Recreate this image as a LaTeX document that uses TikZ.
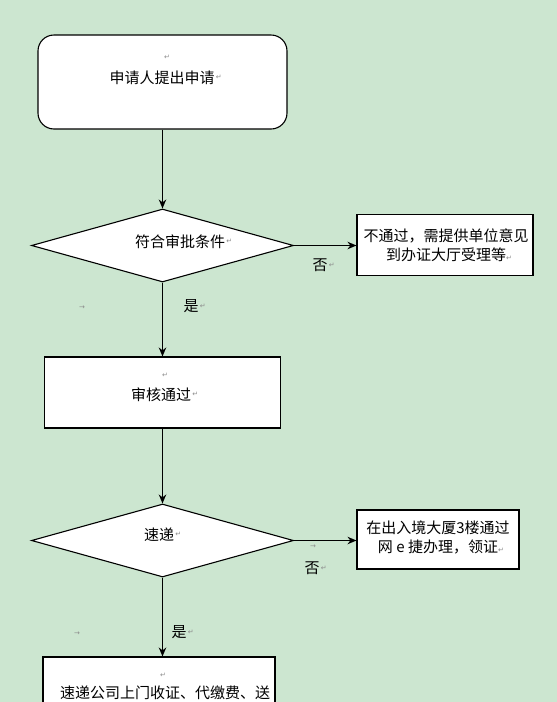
\documentclass[tikz,border=0pt]{standalone}
\usepackage{fontspec}
\newfontfamily\cjk{Noto Sans CJK SC}
\newfontfamily\dvs{DejaVu Sans}
\usetikzlibrary{shapes.geometric,arrows.meta}
\definecolor{bgc}{RGB}{204,230,208}
\definecolor{markc}{RGB}{140,140,140}
\tikzset{
 box/.style={draw=black,fill=white,line width=1.1pt,inner sep=0pt},
 dia/.style={box,diamond,shape aspect=3.6,minimum width=262pt,minimum height=73pt},
 txt/.style={font=\cjk\fontsize{15}{19}\selectfont,inner sep=0pt,align=center},
 pm/.style={font=\dvs\fontsize{7}{7}\selectfont,text=markc,inner sep=0pt},
 arr/.style={line width=1.1pt,-{Stealth[length=9pt,width=7.5pt]}},
}
\begin{document}
\begin{tikzpicture}[x=1pt,y=-1pt]
\useasboundingbox (0,0) rectangle (557,702);
\clip (0,0) rectangle (557,702);
\fill[bgc] (0,0) rectangle (557,702);
% shapes
\node[box,rounded corners=16pt,minimum width=249pt,minimum height=94pt] (b1) at (162.5,82) {};
\node[dia] (d1) at (162.5,245.5) {};
\node[box,minimum width=176pt,minimum height=61pt] (b2) at (445,245) {};
\node[box,minimum width=236pt,minimum height=71pt] (b3) at (162.5,392.5) {};
\node[dia] (d2) at (162.5,540.5) {};
\node[box,minimum width=162pt,minimum height=59pt] (b4) at (438,539.5) {};
\node[box,minimum width=232pt,minimum height=106pt] (b5) at (159,710) {};
% connectors
\draw[arr] (b1.south) -- (d1.north);
\draw[arr] (d1.east) -- (d1.east -| b2.west);
\draw[arr] (d1.south) -- (b3.north);
\draw[arr] (b3.south) -- (d2.north);
\draw[arr] (d2.east) -- (d2.east -| b4.west);
\draw[arr] (d2.south) -- (d2.south |- b5.north);
% texts
\node[txt] (t1) at (162,78) {申请人提出申请};
\node[pm,anchor=west] (m1) at ([xshift=1pt,yshift=1pt]t1.east) {↵};
\node[pm] (m1a) at (167,57) {↵};
\node[txt] (t2) at (180,242) {符合审批条件};
\node[pm,anchor=west] (m2) at ([xshift=1pt,yshift=1pt]t2.east) {↵};
\node[txt] (t3) at (446,245.5) {不通过，需提供单位意见\\到办证大厅受理等\makebox[0pt][l]{\dvs\fontsize{7}{7}\selectfont\color{markc}↵}};
\node[txt] (n1) at (320,265) {否};
\node[pm,anchor=west] (m3) at ([xshift=1pt]n1.east) {↵};
\node[txt] (y1) at (191,306) {是};
\node[pm,anchor=west] (m4) at ([xshift=1pt]y1.east) {↵};
\node[pm] (a1) at (82,308) {→};
\node[txt] (t4) at (161,395) {审核通过};
\node[pm,anchor=west] (m5) at ([xshift=1pt,yshift=1pt]t4.east) {↵};
\node[pm] (m5a) at (165,375) {↵};
\node[txt] (t5) at (159,535) {速递};
\node[pm,anchor=west] (m6) at ([xshift=1pt,yshift=1pt]t5.east) {↵};
\node[txt] (t6) at (438,537.5) {在出入境大厦3楼通过\\网 e 捷办理，领证\makebox[0pt][l]{\dvs\fontsize{7}{7}\selectfont\color{markc}↵}};
\node[pm] (a2) at (313,547) {→};
\node[txt] (n2) at (312,568) {否};
\node[pm,anchor=west] (m7) at ([xshift=1pt]n2.east) {↵};
\node[txt] (y2) at (179,632) {是};
\node[pm,anchor=west] (m8) at ([xshift=1pt]y2.east) {↵};
\node[pm] (a3) at (77,634) {→};
\node[pm] (m9) at (163,675) {↵};
\node[txt] (t7) at (165,693) {速递公司上门收证、代缴费、送};
\end{tikzpicture}
\end{document}
